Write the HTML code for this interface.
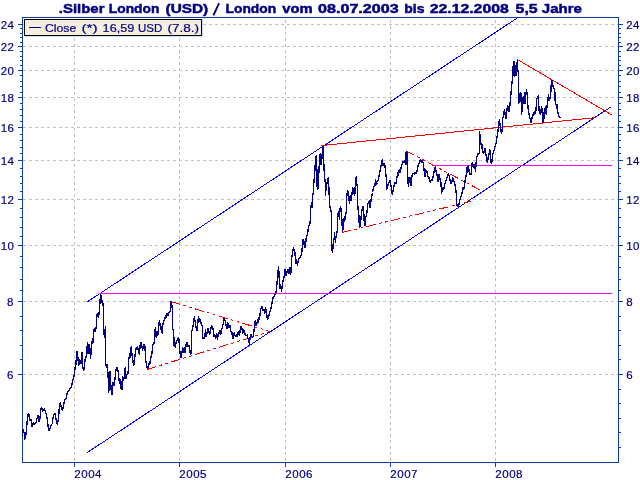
<!DOCTYPE html>
<html><head><meta charset="utf-8"><title>Silber London</title>
<style>html,body{margin:0;padding:0;background:#fff;width:640px;height:480px;overflow:hidden}</style>
</head><body>
<svg width="640" height="480" viewBox="0 0 640 480" style="position:absolute;left:0;top:0;will-change:transform;font-family:'Liberation Sans',sans-serif">
<rect x="0" y="0" width="640" height="480" fill="#fff"/>
<g stroke="#c0c0c0" stroke-width="1" stroke-dasharray="3 3" shape-rendering="crispEdges">
<line x1="23" y1="24.5" x2="618" y2="24.5"/>
<line x1="23" y1="46.5" x2="618" y2="46.5"/>
<line x1="23" y1="70.5" x2="618" y2="70.5"/>
<line x1="23" y1="97.5" x2="618" y2="97.5"/>
<line x1="23" y1="127.5" x2="618" y2="127.5"/>
<line x1="23" y1="160.5" x2="618" y2="160.5"/>
<line x1="23" y1="199.5" x2="618" y2="199.5"/>
<line x1="23" y1="245.5" x2="618" y2="245.5"/>
<line x1="23" y1="301.5" x2="618" y2="301.5"/>
<line x1="23" y1="374.5" x2="618" y2="374.5"/>
<line x1="74.5" y1="18" x2="74.5" y2="462" stroke-dashoffset="4"/>
<line x1="179.5" y1="18" x2="179.5" y2="462" stroke-dashoffset="4"/>
<line x1="285.5" y1="18" x2="285.5" y2="462" stroke-dashoffset="4"/>
<line x1="390.5" y1="18" x2="390.5" y2="462" stroke-dashoffset="4"/>
<line x1="495.5" y1="18" x2="495.5" y2="462" stroke-dashoffset="4"/>
</g>
<g stroke="#1040a0" stroke-width="1" fill="none" shape-rendering="crispEdges">
<rect x="22.5" y="17.5" width="596" height="445"/>
<line x1="18" y1="24.5" x2="22" y2="24.5"/>
<line x1="619" y1="24.5" x2="623" y2="24.5"/>
<line x1="18" y1="46.5" x2="22" y2="46.5"/>
<line x1="619" y1="46.5" x2="623" y2="46.5"/>
<line x1="18" y1="70.5" x2="22" y2="70.5"/>
<line x1="619" y1="70.5" x2="623" y2="70.5"/>
<line x1="18" y1="97.5" x2="22" y2="97.5"/>
<line x1="619" y1="97.5" x2="623" y2="97.5"/>
<line x1="18" y1="127.5" x2="22" y2="127.5"/>
<line x1="619" y1="127.5" x2="623" y2="127.5"/>
<line x1="18" y1="160.5" x2="22" y2="160.5"/>
<line x1="619" y1="160.5" x2="623" y2="160.5"/>
<line x1="18" y1="199.5" x2="22" y2="199.5"/>
<line x1="619" y1="199.5" x2="623" y2="199.5"/>
<line x1="18" y1="245.5" x2="22" y2="245.5"/>
<line x1="619" y1="245.5" x2="623" y2="245.5"/>
<line x1="18" y1="301.5" x2="22" y2="301.5"/>
<line x1="619" y1="301.5" x2="623" y2="301.5"/>
<line x1="18" y1="374.5" x2="22" y2="374.5"/>
<line x1="619" y1="374.5" x2="623" y2="374.5"/>
<line x1="20" y1="28.5" x2="22" y2="28.5"/>
<line x1="619" y1="28.5" x2="621" y2="28.5"/>
<line x1="20" y1="33.5" x2="22" y2="33.5"/>
<line x1="619" y1="33.5" x2="621" y2="33.5"/>
<line x1="20" y1="37.5" x2="22" y2="37.5"/>
<line x1="619" y1="37.5" x2="621" y2="37.5"/>
<line x1="20" y1="42.5" x2="22" y2="42.5"/>
<line x1="619" y1="42.5" x2="621" y2="42.5"/>
<line x1="20" y1="51.5" x2="22" y2="51.5"/>
<line x1="619" y1="51.5" x2="621" y2="51.5"/>
<line x1="20" y1="56.5" x2="22" y2="56.5"/>
<line x1="619" y1="56.5" x2="621" y2="56.5"/>
<line x1="20" y1="60.5" x2="22" y2="60.5"/>
<line x1="619" y1="60.5" x2="621" y2="60.5"/>
<line x1="20" y1="65.5" x2="22" y2="65.5"/>
<line x1="619" y1="65.5" x2="621" y2="65.5"/>
<line x1="20" y1="75.5" x2="22" y2="75.5"/>
<line x1="619" y1="75.5" x2="621" y2="75.5"/>
<line x1="20" y1="81.5" x2="22" y2="81.5"/>
<line x1="619" y1="81.5" x2="621" y2="81.5"/>
<line x1="20" y1="86.5" x2="22" y2="86.5"/>
<line x1="619" y1="86.5" x2="621" y2="86.5"/>
<line x1="20" y1="92.5" x2="22" y2="92.5"/>
<line x1="619" y1="92.5" x2="621" y2="92.5"/>
<line x1="20" y1="103.5" x2="22" y2="103.5"/>
<line x1="619" y1="103.5" x2="621" y2="103.5"/>
<line x1="20" y1="109.5" x2="22" y2="109.5"/>
<line x1="619" y1="109.5" x2="621" y2="109.5"/>
<line x1="20" y1="115.5" x2="22" y2="115.5"/>
<line x1="619" y1="115.5" x2="621" y2="115.5"/>
<line x1="20" y1="121.5" x2="22" y2="121.5"/>
<line x1="619" y1="121.5" x2="621" y2="121.5"/>
<line x1="20" y1="134.5" x2="22" y2="134.5"/>
<line x1="619" y1="134.5" x2="621" y2="134.5"/>
<line x1="20" y1="140.5" x2="22" y2="140.5"/>
<line x1="619" y1="140.5" x2="621" y2="140.5"/>
<line x1="20" y1="147.5" x2="22" y2="147.5"/>
<line x1="619" y1="147.5" x2="621" y2="147.5"/>
<line x1="20" y1="153.5" x2="22" y2="153.5"/>
<line x1="619" y1="153.5" x2="621" y2="153.5"/>
<line x1="20" y1="168.5" x2="22" y2="168.5"/>
<line x1="619" y1="168.5" x2="621" y2="168.5"/>
<line x1="20" y1="176.5" x2="22" y2="176.5"/>
<line x1="619" y1="176.5" x2="621" y2="176.5"/>
<line x1="20" y1="183.5" x2="22" y2="183.5"/>
<line x1="619" y1="183.5" x2="621" y2="183.5"/>
<line x1="20" y1="191.5" x2="22" y2="191.5"/>
<line x1="619" y1="191.5" x2="621" y2="191.5"/>
<line x1="20" y1="208.5" x2="22" y2="208.5"/>
<line x1="619" y1="208.5" x2="621" y2="208.5"/>
<line x1="20" y1="217.5" x2="22" y2="217.5"/>
<line x1="619" y1="217.5" x2="621" y2="217.5"/>
<line x1="20" y1="227.5" x2="22" y2="227.5"/>
<line x1="619" y1="227.5" x2="621" y2="227.5"/>
<line x1="20" y1="236.5" x2="22" y2="236.5"/>
<line x1="619" y1="236.5" x2="621" y2="236.5"/>
<line x1="20" y1="256.5" x2="22" y2="256.5"/>
<line x1="619" y1="256.5" x2="621" y2="256.5"/>
<line x1="20" y1="267.5" x2="22" y2="267.5"/>
<line x1="619" y1="267.5" x2="621" y2="267.5"/>
<line x1="20" y1="279.5" x2="22" y2="279.5"/>
<line x1="619" y1="279.5" x2="621" y2="279.5"/>
<line x1="20" y1="290.5" x2="22" y2="290.5"/>
<line x1="619" y1="290.5" x2="621" y2="290.5"/>
<line x1="20" y1="316.5" x2="22" y2="316.5"/>
<line x1="619" y1="316.5" x2="621" y2="316.5"/>
<line x1="20" y1="330.5" x2="22" y2="330.5"/>
<line x1="619" y1="330.5" x2="621" y2="330.5"/>
<line x1="20" y1="345.5" x2="22" y2="345.5"/>
<line x1="619" y1="345.5" x2="621" y2="345.5"/>
<line x1="20" y1="359.5" x2="22" y2="359.5"/>
<line x1="619" y1="359.5" x2="621" y2="359.5"/>
<line x1="619" y1="389.5" x2="621" y2="389.5"/>
<line x1="619" y1="403.5" x2="621" y2="403.5"/>
<line x1="619" y1="418.5" x2="621" y2="418.5"/>
<line x1="619" y1="432.5" x2="621" y2="432.5"/>
<line x1="619" y1="447.5" x2="621" y2="447.5"/>
<line x1="74.5" y1="463" x2="74.5" y2="467"/>
<line x1="179.5" y1="463" x2="179.5" y2="467"/>
<line x1="285.5" y1="463" x2="285.5" y2="467"/>
<line x1="390.5" y1="463" x2="390.5" y2="467"/>
<line x1="495.5" y1="463" x2="495.5" y2="467"/>
</g>
<g fill="none" stroke-width="1" shape-rendering="crispEdges">
<line x1="87.25" y1="301.9" x2="518" y2="17.5" stroke="#0000ff"/>
<line x1="87" y1="452.7" x2="611.5" y2="106.5" stroke="#0000ff"/>
<line x1="99.4" y1="293.5" x2="611.75" y2="293.5" stroke="#ff00ff" stroke-width="1" shape-rendering="crispEdges"/>
<line x1="432.25" y1="165.5" x2="611.75" y2="165.5" stroke="#ff00ff" stroke-width="1" shape-rendering="crispEdges"/>
<line x1="321.25" y1="145.6" x2="596.5" y2="117.5" stroke="#ff0000" stroke-width="1"/>
<line x1="517.25" y1="59.4" x2="611.5" y2="114.75" stroke="#ff0000" stroke-width="1"/>
<line x1="170.6" y1="301.5" x2="270" y2="331.5" stroke="#ff0000" stroke-width="1" stroke-dasharray="9.5 3.2 3 3.2 3 3.1"/>
<line x1="147.25" y1="369.4" x2="270" y2="331.5" stroke="#ff0000" stroke-width="1" stroke-dasharray="9.5 3.2 3 3.2 3 3.1"/>
<line x1="405.6" y1="150.6" x2="481.25" y2="190.6" stroke="#ff0000" stroke-width="1" stroke-dasharray="9.5 3.2 3 3.2 3 3.1"/>
<line x1="342.1" y1="232.5" x2="470.9" y2="201.4" stroke="#ff0000" stroke-width="1" stroke-dasharray="9.5 3.2 3 3.2 3 3.1"/>
</g>
<polyline points="22.50,435.00 23.10,429.40 24.10,432.50 24.75,439.40 25.60,438.00 26.50,428.75 27.75,415.00 28.75,413.75 29.75,421.25 31.25,418.75 32.10,426.90 33.50,422.50 34.40,425.00 36.25,421.90 37.50,416.25 38.50,415.00 39.00,421.90 40.00,418.75 40.60,410.00 41.50,406.90 42.50,411.25 44.40,408.75 45.60,411.90 46.90,416.90 47.75,423.75 48.75,431.25 50.00,428.75 51.00,425.00 52.25,423.75 53.50,414.40 55.00,413.50 56.25,420.00 57.25,424.40 58.50,418.10 59.40,406.25 60.25,402.50 61.25,406.90 62.50,411.25 63.50,405.00 64.75,399.75 66.00,398.75 67.25,392.50 68.75,390.60 70.00,388.75 71.25,387.50 72.25,382.50 73.50,378.10 74.40,373.75 75.25,366.90 76.00,364.40 76.50,353.75 77.25,350.60 78.10,360.00 78.75,366.25 79.40,358.75 80.25,361.25 81.25,364.40 81.90,352.50 82.50,364.40 83.50,371.25 84.40,368.75 85.00,360.00 86.25,356.25 87.50,342.50 88.10,353.75 89.00,344.40 89.75,348.75 90.60,359.40 91.25,347.50 91.90,340.60 92.75,343.75 93.20,338.00 93.50,329.40 94.75,328.75 95.25,331.90 96.25,326.25 96.60,317.50 97.50,313.10 98.50,318.10 99.40,310.00 100.00,301.25 100.60,294.00 101.50,297.50 101.90,302.50 102.50,300.00 103.25,306.25 103.75,335.00 104.40,328.75 105.00,337.50 105.40,325.60 105.60,362.50 106.50,367.50 107.25,363.75 107.75,377.50 108.50,372.50 108.75,392.50 109.75,371.25 110.25,372.50 111.00,388.75 111.90,395.00 112.50,388.75 113.10,382.50 113.75,386.25 114.75,381.25 115.60,372.50 116.50,368.10 117.50,367.75 118.50,373.75 119.40,383.75 120.00,378.75 121.00,388.75 121.90,390.00 122.25,380.00 122.75,376.25 123.50,381.25 124.40,376.25 125.25,367.50 126.00,378.75 126.90,375.00 128.10,373.10 128.75,360.00 129.75,353.10 130.25,357.50 131.25,346.25 131.90,353.75 132.75,360.00 133.75,366.25 134.40,360.00 135.25,353.75 136.00,348.75 136.90,348.10 137.50,346.25 138.50,351.25 139.40,355.00 140.00,346.25 140.60,342.50 141.50,343.10 142.50,350.60 143.50,345.00 144.40,344.40 145.00,346.25 145.60,360.00 146.50,365.00 147.25,368.10 148.10,367.50 148.75,363.75 149.75,364.40 150.60,358.75 151.90,353.75 152.75,345.00 153.75,341.90 154.40,343.75 154.75,330.00 155.60,327.50 156.25,337.50 157.25,332.50 157.75,336.25 158.75,325.00 159.40,320.60 160.25,326.25 161.00,330.00 161.50,326.25 162.25,333.75 162.75,325.00 163.75,320.60 164.75,318.75 165.60,315.60 166.25,317.50 167.25,313.10 168.10,315.60 169.00,312.50 170.00,311.90 170.60,307.50 171.25,300.60 171.90,307.50 172.50,305.00 172.75,328.75 173.75,332.50 174.00,346.25 174.75,343.10 175.25,347.50 176.00,342.50 177.25,340.60 178.50,336.90 179.00,340.60 179.75,350.00 180.60,358.10 181.25,357.50 181.90,352.50 182.75,347.50 183.50,352.50 184.40,347.50 185.25,353.10 186.25,343.10 187.25,342.50 188.10,346.25 189.00,345.60 189.75,350.00 190.60,355.00 191.25,351.25 191.50,331.90 192.50,328.75 193.50,323.10 194.40,316.25 195.25,322.50 196.00,327.50 196.90,330.60 197.75,323.75 198.50,315.60 199.40,321.90 200.00,319.40 201.00,323.10 202.25,325.60 202.75,338.10 204.75,338.10 205.60,328.75 206.25,336.90 207.25,332.50 208.10,328.10 209.00,331.90 209.75,334.40 210.60,330.60 211.50,325.60 212.50,326.90 213.50,331.25 214.00,336.90 214.75,334.40 215.60,339.40 216.50,333.10 217.50,340.00 218.10,334.40 219.00,333.10 219.75,330.00 220.60,335.00 221.50,330.60 222.50,326.90 223.50,322.50 224.00,318.10 225.00,320.00 226.00,325.00 226.90,328.75 227.75,321.90 228.50,328.10 229.40,326.25 230.25,325.60 231.00,331.90 231.90,332.50 232.75,339.40 233.50,335.00 234.40,332.50 235.00,336.25 236.00,335.00 236.90,336.90 237.50,332.50 238.50,331.90 239.40,336.25 240.00,331.25 241.00,326.25 241.90,328.10 242.75,333.75 243.50,329.40 244.40,331.25 245.25,335.00 246.25,335.60 247.25,335.00 247.75,338.75 248.50,338.10 249.40,345.00 250.00,338.75 250.60,333.75 251.50,335.60 252.50,337.50 253.50,335.00 254.40,327.50 255.00,320.60 256.00,326.25 256.90,323.75 257.75,318.75 258.50,323.10 259.00,318.10 260.00,315.00 260.60,310.00 261.90,306.25 262.75,311.25 263.75,308.75 264.75,313.75 265.60,307.50 266.50,312.50 267.50,320.00 268.50,316.90 269.40,313.75 270.60,310.00 271.90,303.75 273.10,297.50 273.75,296.90 275.00,295.00 276.25,291.25 276.90,283.75 277.50,277.50 278.50,266.25 279.00,273.75 279.75,288.75 280.60,283.75 281.50,291.90 282.50,283.10 283.50,279.40 284.40,275.00 285.25,268.75 286.00,276.25 286.90,272.50 287.75,269.40 288.50,273.75 289.40,267.50 290.25,274.40 291.00,272.50 291.50,259.40 292.50,253.10 293.50,247.50 294.40,251.25 295.00,252.50 295.60,263.75 296.50,259.40 297.50,265.60 298.50,258.75 299.75,257.50 301.00,255.60 301.90,251.90 302.50,244.00 302.90,239.40 303.50,245.00 304.00,241.00 304.75,248.00 305.60,244.00 306.25,237.50 307.50,235.00 308.50,226.90 309.75,224.40 310.60,217.50 310.90,205.00 311.90,207.50 312.50,196.90 313.30,193.00 313.60,185.00 314.40,177.50 315.25,163.75 316.25,155.00 316.90,170.00 317.25,190.00 318.10,188.75 318.75,175.00 319.40,162.50 320.25,153.10 321.00,165.00 321.90,158.75 322.75,146.25 323.50,147.50 323.75,162.50 324.40,175.00 325.25,182.50 325.60,196.00 326.00,187.50 326.90,183.75 327.75,180.00 328.50,177.50 329.00,191.25 329.75,206.25 330.60,208.75 331.25,211.90 331.70,243.30 332.30,252.50 332.90,248.30 333.50,240.00 334.30,238.30 334.60,232.50 335.40,243.30 335.80,237.50 336.50,236.70 336.80,232.50 337.50,230.80 337.75,215.00 338.75,211.25 339.40,220.00 340.00,209.40 340.60,205.60 341.50,215.00 342.00,221.25 342.50,232.10 343.20,227.50 343.75,223.30 344.30,217.00 344.75,221.25 345.60,211.90 346.25,213.75 346.50,198.75 347.50,190.60 348.50,192.50 349.40,203.75 350.25,195.00 351.00,200.60 351.90,195.00 352.75,187.50 353.50,193.75 354.25,186.90 354.75,195.60 355.60,180.00 356.50,176.25 356.90,185.60 357.50,186.90 357.90,208.75 358.75,212.50 359.00,221.25 359.75,228.10 360.60,222.50 361.25,215.00 362.25,208.75 363.10,206.25 363.75,212.50 364.40,225.00 365.00,225.00 365.25,218.75 366.25,216.25 366.90,212.50 367.75,204.40 368.75,201.90 369.40,200.60 370.00,208.10 370.60,203.75 371.50,196.90 372.50,192.50 373.50,186.90 374.75,186.25 375.60,179.40 376.50,184.40 377.50,182.50 378.50,178.75 379.40,174.40 380.25,170.00 381.25,165.00 382.25,159.40 383.10,165.60 384.00,163.10 385.00,165.60 385.60,172.50 386.25,177.50 386.60,190.00 387.50,187.50 388.50,183.10 389.40,181.25 390.00,180.00 390.60,184.40 391.50,188.75 392.25,195.00 393.10,190.00 394.00,186.25 395.00,182.50 396.00,183.75 396.90,177.50 397.75,172.50 398.50,176.25 399.40,168.75 400.25,172.50 401.25,166.90 402.25,163.75 403.10,161.25 403.75,163.10 404.75,160.00 405.40,165.00 406.00,152.50 406.90,151.90 407.50,178.75 408.50,186.90 409.00,177.50 410.00,182.50 410.60,177.50 411.25,186.25 411.90,176.25 413.10,173.10 414.40,173.75 415.25,172.50 416.25,173.75 417.25,170.00 418.10,165.00 419.40,162.50 420.60,159.40 421.50,163.10 422.50,160.60 423.50,164.40 424.00,169.40 425.00,176.90 426.00,170.60 426.90,171.25 427.75,176.25 428.75,176.90 429.75,181.25 430.60,181.90 431.50,179.40 432.50,180.00 433.50,175.00 434.00,171.90 435.00,166.90 436.00,171.25 436.90,176.25 437.50,174.40 438.10,181.90 439.00,173.75 440.00,178.75 441.00,183.10 441.60,193.75 442.50,187.50 443.50,190.00 444.40,186.25 445.25,182.50 446.25,180.00 447.25,176.90 448.10,173.75 449.00,175.00 450.00,180.00 451.00,183.75 451.90,181.25 452.75,177.50 453.75,181.25 454.75,183.75 455.60,187.50 456.25,193.75 456.90,205.00 457.75,206.90 458.75,205.00 459.75,200.60 460.60,198.10 461.50,195.00 462.25,191.90 463.10,187.50 463.75,190.00 464.75,183.75 465.25,180.00 466.25,175.00 466.70,167.50 467.30,173.30 468.30,165.00 469.30,172.50 470.00,174.20 471.00,175.00 471.70,166.70 472.30,161.70 473.20,166.70 473.75,167.50 474.30,163.75 475.00,166.70 475.40,172.10 476.00,165.80 476.50,156.70 477.30,155.80 477.50,153.75 478.30,154.60 479.20,153.30 479.40,130.60 480.25,137.50 481.00,145.00 481.90,143.75 482.10,148.30 482.70,150.00 483.30,153.75 484.00,152.10 484.80,148.30 485.40,153.30 486.25,155.80 486.80,160.00 487.50,162.90 487.90,159.20 488.50,155.00 489.00,154.20 489.60,149.60 490.20,150.80 490.70,160.40 491.50,164.20 492.10,160.80 492.50,155.00 493.30,153.30 494.20,150.00 495.00,146.70 495.70,145.00 496.50,141.25 497.25,135.00 498.10,130.00 498.75,123.75 499.40,119.40 500.00,125.00 500.60,128.75 501.50,133.75 502.25,128.75 502.75,118.75 503.50,115.60 504.40,109.40 505.25,115.00 506.00,119.40 506.90,110.00 507.75,105.60 508.75,111.90 509.75,107.50 510.60,97.50 511.50,87.50 512.50,78.75 513.10,66.25 513.50,76.00 514.00,60.60 514.40,76.90 514.80,64.00 515.20,75.00 515.60,66.00 516.00,76.00 516.40,63.00 516.90,72.00 517.25,60.00 517.75,70.00 518.50,71.25 518.50,103.75 519.40,101.25 520.25,92.50 521.00,93.10 521.50,115.00 522.25,107.50 523.10,96.90 523.75,103.75 524.40,92.50 525.00,103.75 525.60,97.50 526.50,89.40 527.25,94.40 527.75,103.75 528.50,111.90 529.40,116.25 530.25,119.40 531.25,123.10 531.90,118.75 532.75,114.40 533.50,116.25 534.00,111.90 534.75,114.40 535.25,110.00 536.00,111.25 536.50,100.00 537.50,96.90 538.50,95.60 539.00,110.60 540.00,113.10 540.60,115.00 541.50,105.60 542.25,110.00 543.10,122.50 543.75,121.25 544.40,108.10 545.00,111.25 545.60,105.60 546.25,115.00 546.90,106.90 547.75,102.50 548.50,93.75 549.40,101.25 550.25,97.50 551.00,90.00 551.25,83.75 552.25,80.00 553.10,86.90 554.00,88.75 554.75,90.00 555.25,102.50 556.25,105.00 556.90,109.40 557.50,103.75 557.75,111.90 558.75,116.25 559.75,117.50" fill="none" stroke="#000080" stroke-width="1.35" stroke-linejoin="miter" stroke-miterlimit="2" stroke-linecap="square" shape-rendering="crispEdges"/>
<rect x="25.5" y="20.5" width="177" height="16" fill="none" stroke="#cfe0f4" stroke-width="1" shape-rendering="crispEdges"/>
<rect x="24.5" y="19.5" width="177" height="16" fill="#f4eee0" stroke="#000" stroke-width="1" shape-rendering="crispEdges"/>
<line x1="29" y1="27.5" x2="41" y2="27.5" stroke="#000080" stroke-width="1" shape-rendering="crispEdges"/>
<text x="44.90" y="32" font-size="11.5" fill="#000080" stroke="#000080" stroke-width="0.2" textLength="31.40" lengthAdjust="spacingAndGlyphs">Close</text>
<text x="81.40" y="32" font-size="11.5" fill="#000080" stroke="#000080" stroke-width="0.2" textLength="16.40" lengthAdjust="spacingAndGlyphs">(*)</text>
<text x="102.60" y="32" font-size="11.5" fill="#000080" stroke="#000080" stroke-width="0.2" textLength="31.70" lengthAdjust="spacingAndGlyphs">16,59</text>
<text x="137.90" y="32" font-size="11.5" fill="#000080" stroke="#000080" stroke-width="0.2" textLength="24.30" lengthAdjust="spacingAndGlyphs">USD</text>
<text x="167.40" y="32" font-size="11.5" fill="#000080" stroke="#000080" stroke-width="0.2" textLength="31.70" lengthAdjust="spacingAndGlyphs">(7.8.)</text>
<text x="58.80" y="13.1" font-size="13.5" font-weight="bold" fill="#000080" stroke="#000080" stroke-width="0.5" textLength="45.65" lengthAdjust="spacingAndGlyphs">.Silber</text>
<text x="108.80" y="13.1" font-size="13.5" font-weight="bold" fill="#000080" stroke="#000080" stroke-width="0.5" textLength="50.65" lengthAdjust="spacingAndGlyphs">London</text>
<text x="165.55" y="13.1" font-size="13.5" font-weight="bold" fill="#000080" stroke="#000080" stroke-width="0.5" textLength="42.65" lengthAdjust="spacingAndGlyphs">(USD)</text>
<line x1="213.40" y1="15.399999999999999" x2="219.10" y2="3.0999999999999996" stroke="#000080" stroke-width="1.9"/>
<text x="225.55" y="13.1" font-size="13.5" font-weight="bold" fill="#000080" stroke="#000080" stroke-width="0.5" textLength="50.65" lengthAdjust="spacingAndGlyphs">London</text>
<text x="282.30" y="13.1" font-size="13.5" font-weight="bold" fill="#000080" stroke="#000080" stroke-width="0.5" textLength="30.40" lengthAdjust="spacingAndGlyphs">vom</text>
<text x="318.05" y="13.1" font-size="13.5" font-weight="bold" fill="#000080" stroke="#000080" stroke-width="0.5" textLength="80.65" lengthAdjust="spacingAndGlyphs">08.07.2003</text>
<text x="404.30" y="13.1" font-size="13.5" font-weight="bold" fill="#000080" stroke="#000080" stroke-width="0.5" textLength="20.15" lengthAdjust="spacingAndGlyphs">bis</text>
<text x="429.80" y="13.1" font-size="13.5" font-weight="bold" fill="#000080" stroke="#000080" stroke-width="0.5" textLength="78.90" lengthAdjust="spacingAndGlyphs">22.12.2008</text>
<text x="515.55" y="13.1" font-size="13.5" font-weight="bold" fill="#000080" stroke="#000080" stroke-width="0.5" textLength="22.15" lengthAdjust="spacingAndGlyphs">5,5</text>
<text x="541.80" y="13.1" font-size="13.5" font-weight="bold" fill="#000080" stroke="#000080" stroke-width="0.5" textLength="40.15" lengthAdjust="spacingAndGlyphs">Jahre</text>
<text x="0.70" y="29" font-size="11.5" fill="#000080" stroke="#000080" stroke-width="0.2" textLength="13.2" lengthAdjust="spacing">24</text>
<text x="626.3" y="29" font-size="11.5" fill="#000080" stroke="#000080" stroke-width="0.2" textLength="13.2" lengthAdjust="spacing">24</text>
<text x="0.70" y="51" font-size="11.5" fill="#000080" stroke="#000080" stroke-width="0.2" textLength="13.2" lengthAdjust="spacing">22</text>
<text x="626.3" y="51" font-size="11.5" fill="#000080" stroke="#000080" stroke-width="0.2" textLength="13.2" lengthAdjust="spacing">22</text>
<text x="0.70" y="75" font-size="11.5" fill="#000080" stroke="#000080" stroke-width="0.2" textLength="13.2" lengthAdjust="spacing">20</text>
<text x="626.3" y="75" font-size="11.5" fill="#000080" stroke="#000080" stroke-width="0.2" textLength="13.2" lengthAdjust="spacing">20</text>
<text x="0.70" y="102" font-size="11.5" fill="#000080" stroke="#000080" stroke-width="0.2" textLength="13.2" lengthAdjust="spacing">18</text>
<text x="626.3" y="102" font-size="11.5" fill="#000080" stroke="#000080" stroke-width="0.2" textLength="13.2" lengthAdjust="spacing">18</text>
<text x="0.70" y="132" font-size="11.5" fill="#000080" stroke="#000080" stroke-width="0.2" textLength="13.2" lengthAdjust="spacing">16</text>
<text x="626.3" y="132" font-size="11.5" fill="#000080" stroke="#000080" stroke-width="0.2" textLength="13.2" lengthAdjust="spacing">16</text>
<text x="0.70" y="165" font-size="11.5" fill="#000080" stroke="#000080" stroke-width="0.2" textLength="13.2" lengthAdjust="spacing">14</text>
<text x="626.3" y="165" font-size="11.5" fill="#000080" stroke="#000080" stroke-width="0.2" textLength="13.2" lengthAdjust="spacing">14</text>
<text x="0.70" y="204" font-size="11.5" fill="#000080" stroke="#000080" stroke-width="0.2" textLength="13.2" lengthAdjust="spacing">12</text>
<text x="626.3" y="204" font-size="11.5" fill="#000080" stroke="#000080" stroke-width="0.2" textLength="13.2" lengthAdjust="spacing">12</text>
<text x="0.70" y="250" font-size="11.5" fill="#000080" stroke="#000080" stroke-width="0.2" textLength="13.2" lengthAdjust="spacing">10</text>
<text x="626.3" y="250" font-size="11.5" fill="#000080" stroke="#000080" stroke-width="0.2" textLength="13.2" lengthAdjust="spacing">10</text>
<text x="7.10" y="306" font-size="11.5" fill="#000080" stroke="#000080" stroke-width="0.2" textLength="6.8" lengthAdjust="spacing">8</text>
<text x="626.3" y="306" font-size="11.5" fill="#000080" stroke="#000080" stroke-width="0.2" textLength="6.8" lengthAdjust="spacing">8</text>
<text x="7.10" y="379" font-size="11.5" fill="#000080" stroke="#000080" stroke-width="0.2" textLength="6.8" lengthAdjust="spacing">6</text>
<text x="626.3" y="379" font-size="11.5" fill="#000080" stroke="#000080" stroke-width="0.2" textLength="6.8" lengthAdjust="spacing">6</text>
<text x="74.3" y="477.6" font-size="11.5" fill="#000080" stroke="#000080" stroke-width="0.2" textLength="27.2" lengthAdjust="spacing">2004</text>
<text x="179.3" y="477.6" font-size="11.5" fill="#000080" stroke="#000080" stroke-width="0.2" textLength="27.2" lengthAdjust="spacing">2005</text>
<text x="285.3" y="477.6" font-size="11.5" fill="#000080" stroke="#000080" stroke-width="0.2" textLength="27.2" lengthAdjust="spacing">2006</text>
<text x="390.3" y="477.6" font-size="11.5" fill="#000080" stroke="#000080" stroke-width="0.2" textLength="27.2" lengthAdjust="spacing">2007</text>
<text x="495.3" y="477.6" font-size="11.5" fill="#000080" stroke="#000080" stroke-width="0.2" textLength="27.2" lengthAdjust="spacing">2008</text>
</svg>
</body></html>
